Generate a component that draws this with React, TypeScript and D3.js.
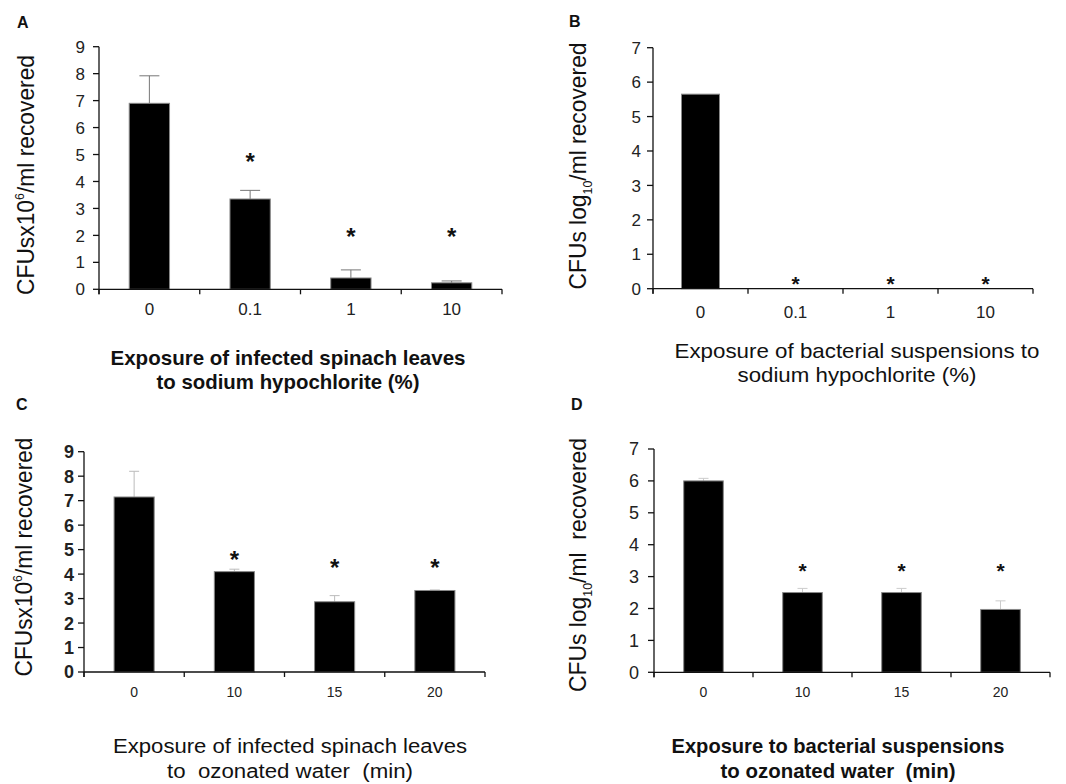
import React from "react";
import * as d3 from "d3";

// categories
const doseCats = ["0", "0.1", "1", "10"];
const timeCats = ["0", "10", "15", "20"];

// A: infected leaves, hypochlorite (CFU x10^6/ml)
const leafClMeans = [6.9, 3.35, 0.42, 0.24];
const leafClErr = [1.02, 0.32, 0.3, 0.07];
const leafClStars = [null, 4.9, 2.15, 2.15];

// B: suspensions, hypochlorite (log10 CFU/ml)
const suspClMeans = [5.65, 0, 0, 0];
const suspClErr = [0, 0, 0, 0];
const suspClStars = [null, 0.28, 0.28, 0.28];

// C: infected leaves, ozonated water
const leafOzMeans = [7.15, 4.1, 2.87, 3.33];
const leafOzErr = [1.05, 0.1, 0.25, 0.02];
const leafOzStars = [null, 4.78, 4.46, 4.46];

// D: suspensions, ozonated water
const suspOzMeans = [6.0, 2.5, 2.5, 1.97];
const suspOzErr = [0.08, 0.13, 0.13, 0.27];
const suspOzStars = [null, 3.31, 3.31, 3.31];

const ticks9 = [0, 1, 2, 3, 4, 5, 6, 7, 8, 9];
const ticks7 = [0, 1, 2, 3, 4, 5, 6, 7];

const FONT = "'Liberation Sans', Arial, sans-serif";

type Cfg = {
  letter: string;
  letterX: number;
  letterY: number;
  cats: string[];
  means: number[];
  errs: number[];
  stars: (number | null)[];
  yTicks: number[];
  x0: number;
  x1: number;
  yTop: number;
  yBottom: number;
  yTickFont: number;
  yTickBold: boolean;
  yTickRight: number;
  xTickFont: number;
  xTickY: number;
  starFont: number;
  capW: number;
  errColor: string;
  yLabel: "cfu6" | "log10" | "log10b";
  yLabelX: number;
  yLabelCy: number;
  yLabelLen: number;
  titles: string[];
  titleLens: number[];
  titleX: number;
  titleY: number[];
  titleBold: boolean;
  titleFont: number;
};

function YLabel({ cfg }: { cfg: Cfg }) {
  const t = `translate(${cfg.yLabelX},${cfg.yLabelCy}) rotate(-90)`;
  if (cfg.yLabel === "cfu6") {
    return (
      <text transform={t} textAnchor="middle" fontSize={24} textLength={cfg.yLabelLen} lengthAdjust="spacingAndGlyphs" fill="#111">
        CFUsx10<tspan fontSize={13} dy={-10}>6</tspan>
        <tspan dy={10}>/ml recovered</tspan>
      </text>
    );
  }
  return (
    <text transform={t} textAnchor="middle" fontSize={24} textLength={cfg.yLabelLen} lengthAdjust="spacingAndGlyphs" fill="#111">
      CFUs log<tspan fontSize={13} dy={6}>10</tspan>
      <tspan dy={-6}>{cfg.yLabel === "log10b" ? "/ml\u00a0\u00a0recovered" : "/ml recovered"}</tspan>
    </text>
  );
}

function Panel({ cfg }: { cfg: Cfg }) {
  const x = d3
    .scaleBand<string>()
    .domain(cfg.cats)
    .range([cfg.x0, cfg.x1])
    .paddingInner(0.6)
    .paddingOuter(0.3);
  const y = d3
    .scaleLinear()
    .domain([0, cfg.yTicks[cfg.yTicks.length - 1]])
    .range([cfg.yBottom, cfg.yTop]);
  const bw = x.bandwidth();
  const edges = d3.range(cfg.cats.length + 1).map((i) => cfg.x0 + i * x.step());

  return (
    <g fontFamily={FONT}>
      <text x={cfg.letterX} y={cfg.letterY} fontSize={16} fontWeight="bold" fill="#111">
        {cfg.letter}
      </text>

      {cfg.cats.map((c, i) => {
        const cx = (x(c) as number) + bw / 2;
        const top = y(cfg.means[i]);
        const hi = y(cfg.means[i] + cfg.errs[i]);
        return (
          <g key={c}>
            {cfg.errs[i] > 0 && (
              <g stroke={cfg.errColor} strokeWidth={1}>
                <line x1={cx} x2={cx} y1={top} y2={hi} />
                <line x1={cx - cfg.capW / 2} x2={cx + cfg.capW / 2} y1={hi} y2={hi} />
              </g>
            )}
            {cfg.means[i] > 0 && (
              <rect x={x(c)} y={top} width={bw} height={y(0) - top} fill="#000" stroke="#888" strokeWidth={1} />
            )}
            {cfg.stars[i] != null && (
              <text
                x={cx}
                y={y(cfg.stars[i] as number) + cfg.starFont * 0.55}
                textAnchor="middle"
                fontSize={cfg.starFont}
                fontWeight="bold"
                fill="#111"
              >
                *
              </text>
            )}
          </g>
        );
      })}

      {/* axes */}
      <g stroke="#111" strokeWidth={1.3}>
        <line x1={cfg.x0} x2={cfg.x0} y1={y.range()[1]} y2={y(0) + 5} />
        {cfg.yTicks.map((t) => (
          <line key={t} x1={cfg.x0 - 6} x2={cfg.x0} y1={y(t)} y2={y(t)} />
        ))}
        <line x1={cfg.x0} x2={cfg.x1} y1={y(0)} y2={y(0)} />
        {edges.map((e, i) => (
          <line key={i} x1={e} x2={e} y1={y(0)} y2={y(0) + 5} />
        ))}
      </g>
      {cfg.yTicks.map((t) => (
        <text
          key={t}
          x={cfg.yTickRight}
          y={y(t) + cfg.yTickFont * 0.36}
          textAnchor="end"
          fontSize={cfg.yTickFont}
          fontWeight={cfg.yTickBold ? "bold" : "normal"}
          fill="#222"
        >
          {t}
        </text>
      ))}
      {cfg.cats.map((c) => (
        <text key={c} x={(x(c) as number) + bw / 2} y={cfg.xTickY} textAnchor="middle" fontSize={cfg.xTickFont} fill="#222">
          {c}
        </text>
      ))}

      <YLabel cfg={cfg} />

      {cfg.titles.map((s, i) => (
        <text
          key={i}
          x={cfg.titleX}
          y={cfg.titleY[i]}
          textAnchor="middle"
          fontSize={cfg.titleFont}
          fontWeight={cfg.titleBold ? "bold" : "normal"}
          textLength={cfg.titleLens[i]}
          lengthAdjust="spacingAndGlyphs"
          fill="#111"
          style={{ whiteSpace: "pre" }}
        >
          {s}
        </text>
      ))}
    </g>
  );
}

const panels: Cfg[] = [
  {
    letter: "A", letterX: 17, letterY: 28,
    cats: doseCats, means: leafClMeans, errs: leafClErr, stars: leafClStars, yTicks: ticks9,
    x0: 99, x1: 502, yTop: 46.7, yBottom: 289.3,
    yTickFont: 17, yTickBold: false, yTickRight: 85,
    xTickFont: 17, xTickY: 315, starFont: 24, capW: 20, errColor: "#777",
    yLabel: "cfu6", yLabelX: 34, yLabelCy: 175, yLabelLen: 240,
    titles: ["Exposure of infected spinach leaves", "to sodium hypochlorite (%)"],
    titleLens: [355, 263], titleX: 288, titleY: [365, 389], titleBold: true, titleFont: 21,
  },
  {
    letter: "B", letterX: 569, letterY: 27,
    cats: doseCats, means: suspClMeans, errs: suspClErr, stars: suspClStars, yTicks: ticks7,
    x0: 653, x1: 1033, yTop: 47.7, yBottom: 288.7,
    yTickFont: 17, yTickBold: false, yTickRight: 641,
    xTickFont: 17, xTickY: 318, starFont: 21, capW: 10, errColor: "#bbb",
    yLabel: "log10", yLabelX: 586, yLabelCy: 166, yLabelLen: 247,
    titles: ["Exposure of bacterial suspensions to", "sodium hypochlorite (%)"],
    titleLens: [365, 239], titleX: 857, titleY: [358, 382], titleBold: false, titleFont: 21,
  },
  {
    letter: "C", letterX: 16, letterY: 410,
    cats: timeCats, means: leafOzMeans, errs: leafOzErr, stars: leafOzStars, yTicks: ticks9,
    x0: 84, x1: 485, yTop: 451.7, yBottom: 672,
    yTickFont: 18, yTickBold: true, yTickRight: 74,
    xTickFont: 14, xTickY: 697, starFont: 24, capW: 10, errColor: "#bbb",
    yLabel: "cfu6", yLabelX: 32, yLabelCy: 557, yLabelLen: 239,
    titles: ["Exposure of infected spinach leaves", "to  ozonated water  (min)"],
    titleLens: [354, 246], titleX: 290, titleY: [753, 778], titleBold: false, titleFont: 20,
  },
  {
    letter: "D", letterX: 571, letterY: 410,
    cats: timeCats, means: suspOzMeans, errs: suspOzErr, stars: suspOzStars, yTicks: ticks7,
    x0: 654, x1: 1050, yTop: 449, yBottom: 672.3,
    yTickFont: 18, yTickBold: false, yTickRight: 639,
    xTickFont: 14, xTickY: 697, starFont: 21, capW: 10, errColor: "#ccc",
    yLabel: "log10b", yLabelX: 586, yLabelCy: 565, yLabelLen: 254,
    titles: ["Exposure to bacterial suspensions", "to ozonated water  (min)"],
    titleLens: [333, 235], titleX: 838, titleY: [753, 778], titleBold: true, titleFont: 21,
  },
];

export default function App() {
  return (
    <svg
      width={1066}
      height={784}
      style={{ position: "absolute", left: 0, top: 0, background: "#fff" }}
    >
      {panels.map((p) => (
        <Panel key={p.letter} cfg={p} />
      ))}
    </svg>
  );
}
